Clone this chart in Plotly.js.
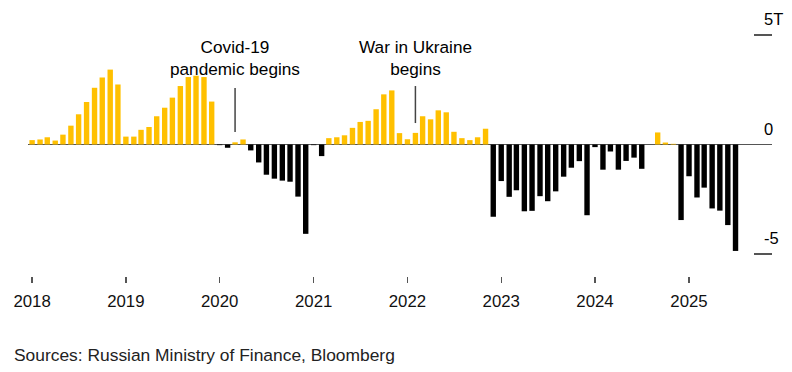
<!DOCTYPE html>
<html>
<head>
<meta charset="utf-8">
<script src="https://cdn.plot.ly/plotly-3.0.1.min.js"></script>
<style>html,body{margin:0;padding:0;background:#fff;}#chart{width:792px;height:372px;}</style>
</head>
<body>
<div id="chart"></div>
<script>
// Monthly budget balance, trillion rubles (Jan 2018 – Jul 2025)
const startYear = 2018;
const values2018 = [0.20, 0.23, 0.33, 0.18, 0.45, 0.86, 1.38, 1.94, 2.59, 3.06, 3.42, 2.74];
const values2019 = [0.36, 0.36, 0.67, 0.80, 1.29, 1.68, 2.14, 2.67, 3.08, 3.14, 3.08, 1.96];
const values2020 = [-0.03, -0.15, 0.10, 0.23, -0.27, -0.82, -1.38, -1.56, -1.65, -1.70, -2.38, -4.08];
const values2021 = [-0.03, -0.53, 0.29, 0.33, 0.42, 0.76, 1.03, 1.08, 1.61, 2.29, 2.47, 0.52];
const values2022 = [0.24, 0.53, 1.29, 1.15, 1.56, 1.47, 0.58, 0.29, 0.20, 0.33, 0.72, -3.30];
const values2023 = [-1.67, -2.39, -2.09, -3.05, -3.03, -2.36, -2.59, -2.14, -1.47, -1.06, -0.76, -3.23];
const values2024 = [-0.12, -1.15, -0.32, -1.15, -0.75, -0.60, -1.11, 0.00, 0.55, 0.09, 0.03, -3.45];
const values2025 = [-1.45, -2.42, -1.97, -2.92, -3.02, -3.68, -4.86];

const yearTicks = ['2018-01-01','2019-01-01','2020-01-01','2021-01-01','2022-01-01','2023-01-01','2024-01-01','2025-01-01'];
const yearLabels = ['2018','2019','2020','2021','2022','2023','2024','2025'];
const yTickVals = [5, 0, -5];
const yTickText = ['5T', '0', '-5'];

const eventDates = ['2020-03-01', '2022-02-01'];
const eventLabels = ['Covid-19<br>pandemic begins', 'War in Ukraine<br>begins'];
const eventLineFrom = [0.57, 0.98];
const eventLineTo = [2.58, 2.67];
const eventLabelY = 3.95;

const sourceText = 'Sources: Russian Ministry of Finance, Bloomberg';

const values = [].concat(values2018, values2019, values2020, values2021, values2022, values2023, values2024, values2025);
const months = values.map((v, i) => {
  const y = startYear + Math.floor(i / 12);
  const m = (i % 12) + 1;
  return y + '-' + String(m).padStart(2, '0') + '-01';
});

const YELLOW = '#FFC000';
const colors = values.map(v => v >= 0 ? YELLOW : '#000000');
const FONT = 'Liberation Sans, Arial, Helvetica, sans-serif';

const trace = {
  type: 'bar',
  x: months,
  y: values,
  width: months.map(() => 21 * 86400000),
  marker: { color: colors, line: { width: 0 } },
  hoverinfo: 'x+y'
};

const annotations = [];
yTickVals.forEach((v, i) => {
  annotations.push({
    xref: 'paper', yref: 'y', x: 0.986, y: v, xanchor: 'left', yanchor: 'middle',
    yshift: 16, text: yTickText[i], showarrow: false,
    font: { family: FONT, size: 16.5, color: '#000' }
  });
});
eventDates.forEach((d, i) => {
  annotations.push({
    xref: 'x', yref: 'y', x: d, y: eventLabelY, xanchor: 'center', yanchor: 'middle',
    text: eventLabels[i], showarrow: false,
    font: { family: FONT, size: 17.2, color: '#000' }
  });
});
annotations.push({
  xref: 'paper', yref: 'paper', x: -0.0215, y: -0.3086, xanchor: 'left', yanchor: 'middle',
  text: sourceText, showarrow: false, font: { family: FONT, size: 17.4, color: '#222' }
});

const shapes = eventDates.map((d, i) => ({
  type: 'line', xref: 'x', yref: 'y', x0: d, x1: d, y0: eventLineFrom[i], y1: eventLineTo[i],
  line: { color: '#444', width: 1.5 }
}));

const layout = {
  width: 792, height: 372,
  margin: { l: 28, r: 20, t: 20, b: 96 },
  paper_bgcolor: '#fff', plot_bgcolor: '#fff',
  showlegend: false,
  font: { family: FONT, color: '#000' },
  xaxis: {
    type: 'date', range: ['2017-12-16', '2025-11-20'],
    tickvals: yearTicks, ticktext: yearLabels,
    ticks: 'outside', ticklen: 6, tickwidth: 1.3, tickcolor: '#555',
    showgrid: false, zeroline: false, showline: false,
    tickfont: { family: FONT, size: 16.8, color: '#111' },
    ticklabelstandoff: 4
  },
  yaxis: {
    side: 'right', range: [-6.005, 5.685],
    tickvals: yTickVals, ticks: 'inside', ticklen: 18, tickwidth: 1.3, tickcolor: '#555',
    showticklabels: false, showgrid: false, showline: false,
    zeroline: true, zerolinecolor: '#555', zerolinewidth: 1
  },
  annotations: annotations,
  shapes: shapes
};

Plotly.newPlot('chart', [trace], layout, { displayModeBar: false, staticPlot: true });
</script>
</body>
</html>
